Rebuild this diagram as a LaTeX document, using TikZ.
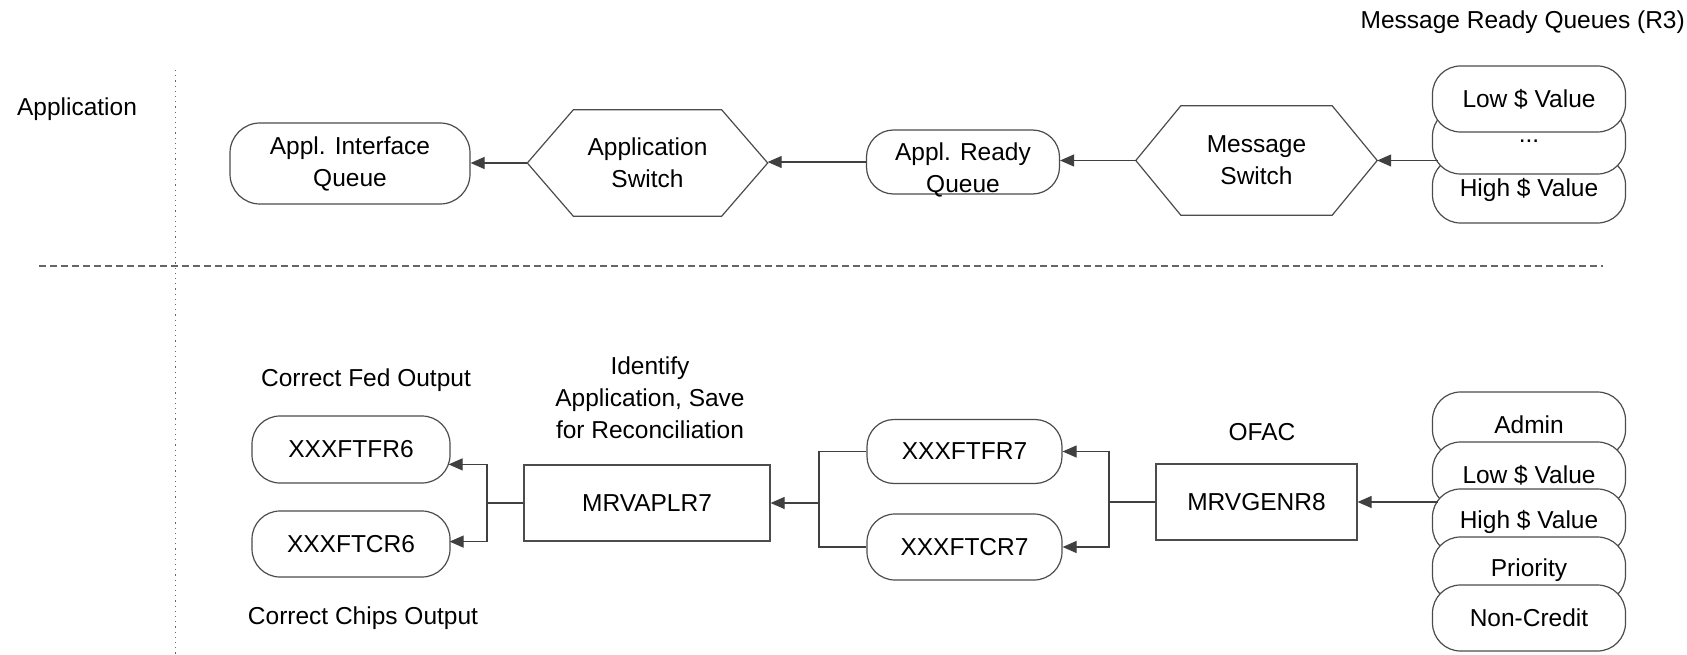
\documentclass[tikz,border=0pt]{standalone}
\usepackage{fontspec}
\setmainfont{Liberation Sans}
\usetikzlibrary{arrows.meta,calc}
\newcommand\hexoutline[2]{%
  \draw[outl] (#1.west) -- ([xshift=#2]#1.north west) -- ([xshift=-#2]#1.north east)
    -- (#1.east) -- ([xshift=-#2]#1.south east) -- ([xshift=#2]#1.south west) -- cycle;}
\begin{document}
\begin{tikzpicture}[x=1pt,y=-1pt,
  font=\fontsize{24.5pt}{32pt}\selectfont,
  outl/.style={draw=black!70, line width=1.2pt},
  qbox/.style={outl, fill=white, inner sep=0pt, align=center},
  hexbox/.style={inner sep=0pt, align=center},
  rbox/.style={outl, fill=white, inner sep=0pt, align=center},
  stackq/.style={qbox, minimum width=193pt, minimum height=66pt, rounded corners=28pt},
  conn/.style={draw=black!75, line width=1.2pt},
  arr/.style={conn, -{Triangle[length=14pt,width=12pt]}},
  sepline/.style={draw=black!60, line width=1pt},
  lbl/.style={inner sep=0pt, align=center}]
\fill[white] (0,0) rectangle (1687,655);
\useasboundingbox (0,0) rectangle (1687,655);

% separators
\coordinate (vtop) at (175,70);
\coordinate (vbot) at (175,655);
\coordinate (hl) at (39,266);
\coordinate (hr) at (1603,266);
\draw[sepline, dash pattern=on 1.2pt off 4pt] (vtop) -- (vbot);
\draw[sepline, dash pattern=on 7pt off 4pt] (hl) -- (hr);

% labels
\node[lbl, anchor=east] (title) at (1685,22) {Message Ready Queues (R3)};
\node[lbl] (applbl) at (77,109) {Application};

% top row
\node[qbox, minimum width=240pt, minimum height=81pt, rounded corners=30pt] (iface) at (350,163.5) {Appl. Interface\\Queue};
\node[hexbox, minimum width=240pt, minimum height=106pt] (appsw) at (647.5,163) {Application\\Switch};
\hexoutline{appsw}{46pt}
\node[qbox, minimum width=193pt, minimum height=64pt, rounded corners=27pt,
  label={[lbl, yshift=-8pt]center:{Appl. Ready\\Queue}}] (ready) at (963,162) {};
\node[hexbox, minimum width=241pt, minimum height=109pt] (msgsw) at (1256.5,160.5) {Message\\Switch};
\hexoutline{msgsw}{45pt}

\node[stackq] (thigh) at (1529,190) {High \$ Value};
\node[stackq] (tdots) at (1529,141) {...};
\node[stackq] (tlow) at (1529,99) {Low \$ Value};

\draw[arr] ([xshift=6pt]tdots.west |- msgsw.east) -- (msgsw.east);
\draw[arr] (msgsw.west) -- (msgsw.west -| ready.east);
\draw[arr] (ready.west) -- (ready.west -| appsw.east);
\draw[arr] (appsw.west) -- (appsw.west -| iface.east);

% bottom row
\node[lbl] (fedlbl) at (366,380) {Correct Fed Output};
\node[lbl] (chipslbl) at (363,618) {Correct Chips Output};
\node[lbl] (idlbl) at (650,398) {Identify\\Application, Save\\for Reconciliation};
\node[lbl] (ofaclbl) at (1262,432) {OFAC};

\node[qbox, minimum width=198pt, minimum height=67pt, rounded corners=28pt] (fr6) at (351,449.5) {XXXFTFR6};
\node[qbox, minimum width=198pt, minimum height=66pt, rounded corners=28pt] (cr6) at (351,544) {XXXFTCR6};
\node[rbox, minimum width=246pt, minimum height=76pt] (aplr) at (647,503) {MRVAPLR7};
\node[qbox, minimum width=195pt, minimum height=64pt, rounded corners=27pt] (fr7) at (964.5,451.5) {XXXFTFR7};
\node[qbox, minimum width=195pt, minimum height=66pt, rounded corners=28pt] (cr7) at (964.5,547) {XXXFTCR7};
\node[rbox, minimum width=201pt, minimum height=76pt] (gen) at (1256.5,502) {MRVGENR8};

\node[stackq] (badmin) at (1529,425) {Admin};
\node[stackq] (blow) at (1529,475) {Low \$ Value};
\node[stackq] (bhigh) at (1529,522) {High \$ Value};
\node[stackq] (bprio) at (1529,570) {Priority};
\node[stackq] (bnon) at (1529,618) {Non-Credit};

% connectors bottom
\coordinate (jA) at (487,503);
\coordinate (jB) at (819,503);
\coordinate (jC) at (1109,502);
\draw[conn] (aplr.west) -- (jA);
\draw[arr] (jA) |- ([xshift=-2pt]fr6.east |- aplr.north);
\draw[arr] (jA) |- ([xshift=-1pt]cr6.east |- aplr.south);
\draw[conn] (fr7.west) -| (jB);
\draw[conn] (cr7.west) -| (jB);
\draw[arr] (jB) -- (aplr.east);
\draw[conn] (gen.west) -- (jC);
\draw[arr] (jC) |- (fr7.east);
\draw[arr] (jC) |- (cr7.east);
\draw[arr] ([xshift=6pt]bhigh.west |- gen.east) -- (gen.east);
\end{tikzpicture}
\end{document}
